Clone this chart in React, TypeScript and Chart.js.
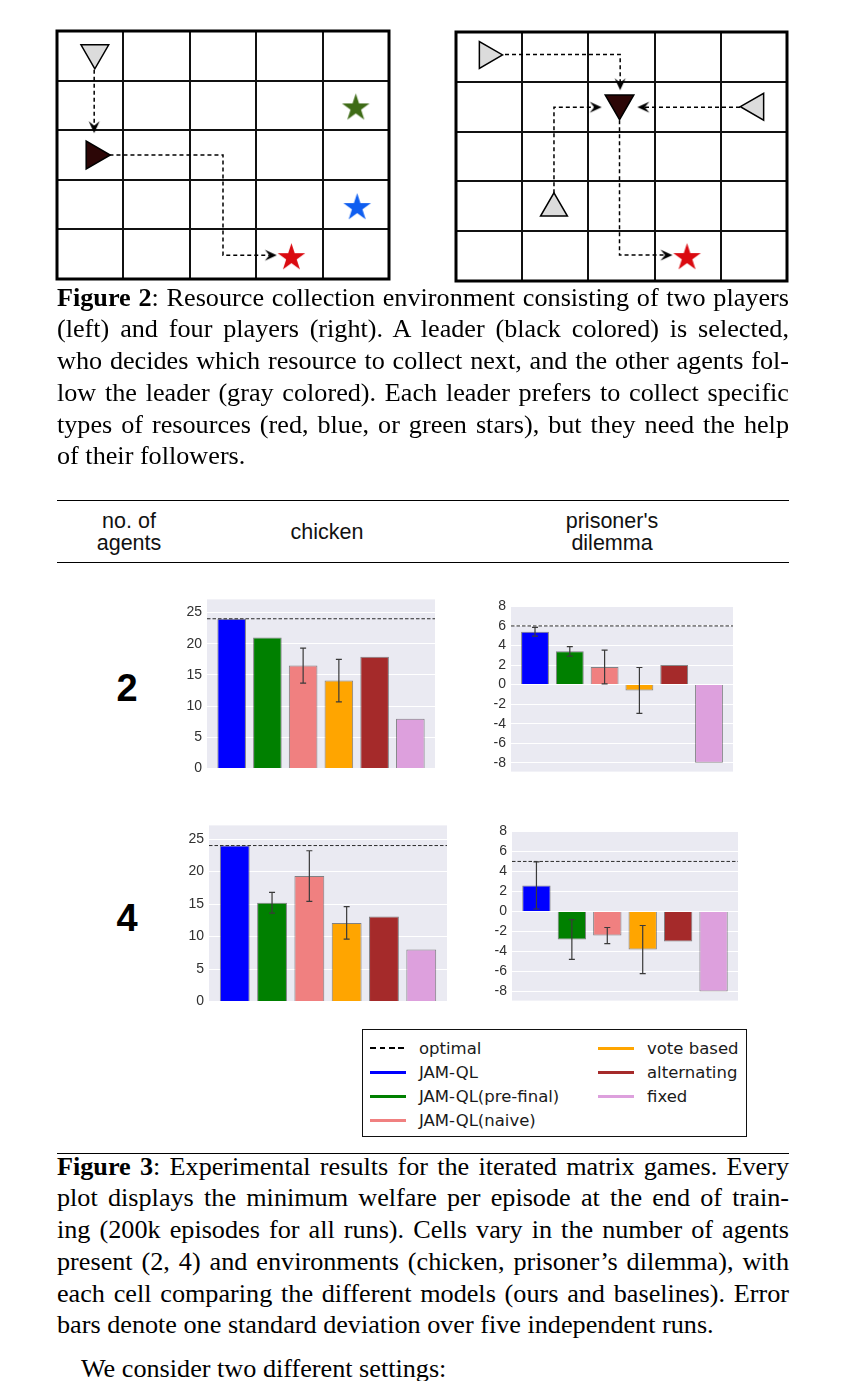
import React, { useEffect, useRef } from 'react';
import { Chart, registerables } from 'chart.js';
Chart.register(...registerables);

// ---------------- Figure 3 data ----------------
const MODELS = ['JAM-QL', 'JAM-QL(pre-final)', 'JAM-QL(naive)', 'vote based', 'alternating', 'fixed'];
const MODEL_COLORS = ['#0000FF', '#008000', '#F08080', '#FFA500', '#A52A2A', '#DDA0DD'];
const MODEL_X = [0, 1, 2, 3, 4, 5];
const CHICKEN_TICKS = [0, 5, 10, 15, 20, 25];
const PD_TICKS = [-8, -6, -4, -2, 0, 2, 4, 6, 8];

const CHICKEN2_MEAN = [24, 21, 16.5, 14.1, 17.9, 8];
const CHICKEN2_STD = [0, 0, 2.8, 3.4, 0, 0];
const CHICKEN2_OPT = 24;

const PD2_MEAN = [5.4, 3.4, 1.8, -0.6, 2.0, -8];
const PD2_STD = [0.45, 0.48, 1.72, 2.35, 0, 0];
const PD2_OPT = 6;

const CHICKEN4_MEAN = [24, 15.2, 19.3, 12.1, 13.1, 8];
const CHICKEN4_STD = [0, 1.6, 3.9, 2.5, 0, 0];
const CHICKEN4_OPT = 24;

const PD4_MEAN = [2.6, -2.8, -2.4, -3.8, -3.0, -8];
const PD4_STD = [2.35, 1.98, 0.8, 2.4, 0, 0];
const PD4_OPT = 5;

const AGENT_COUNTS = ['2', '4'];

// ---------------- Figure 2 data (grid cell units) ----------------
const GRID_LINES = [0, 1, 2, 3, 4, 5];

const L_FOLLOWERS = [{ x: 0.57, y: 0.44, rot: 180 }];
const L_LEADERS = [{ x: 0.56, y: 2.5, rot: 90 }];
const L_STARS = [
  { x: 4.5, y: 1.55, color: '#3E6B16' },
  { x: 4.52, y: 3.56, color: '#0F5EF0' },
  { x: 3.53, y: 4.57, color: '#DA0A10' },
];
const L_PATHS = [
  [{ x: 0.56, y: 0.78 }, { x: 0.56, y: 2.0 }],
  [{ x: 0.79, y: 2.5 }, { x: 2.5, y: 2.5 }, { x: 2.5, y: 4.52 }, { x: 3.2, y: 4.52 }],
];
const L_HEADS = [
  { x: 0.56, y: 2.06, rot: 90 },
  { x: 3.31, y: 4.52, rot: 0 },
];

const R_FOLLOWERS = [
  { x: 0.47, y: 0.46, rot: 90 },
  { x: 4.53, y: 1.5, rot: 270 },
  { x: 1.48, y: 3.54, rot: 0 },
];
const R_LEADERS = [{ x: 2.47, y: 1.43, rot: 180 }];
const R_STARS = [{ x: 3.49, y: 4.53, color: '#DA0A10' }];
const R_PATHS = [
  [{ x: 0.74, y: 0.45 }, { x: 2.48, y: 0.45 }, { x: 2.48, y: 1.1 }],
  [{ x: 1.48, y: 3.24 }, { x: 1.48, y: 1.51 }, { x: 2.15, y: 1.51 }],
  [{ x: 4.29, y: 1.51 }, { x: 2.8, y: 1.51 }],
  [{ x: 2.47, y: 1.77 }, { x: 2.47, y: 4.48 }, { x: 3.2, y: 4.48 }],
];
const R_HEADS = [
  { x: 2.48, y: 1.17, rot: 90 },
  { x: 2.2, y: 1.51, rot: 0 },
  { x: 2.74, y: 1.51, rot: 180 },
  { x: 3.27, y: 4.48, rot: 0 },
];

// ---------------- Text ----------------
const FIG2_LINES = [
  'Resource collection environment consisting of two players',
  '(left) and four players (right). A leader (black colored) is selected,',
  'who decides which resource to collect next, and the other agents fol-',
  'low the leader (gray colored). Each leader prefers to collect specific',
  'types of resources (red, blue, or green stars), but they need the help',
  'of their followers.',
];
const FIG3_LINES = [
  'Experimental results for the iterated matrix games. Every',
  'plot displays the minimum welfare per episode at the end of train-',
  'ing (200k episodes for all runs). Cells vary in the number of agents',
  'present (2, 4) and environments (chicken, prisoner\u2019s dilemma), with',
  'each cell comparing the different models (ours and baselines). Error',
  'bars denote one standard deviation over five independent runs.',
];
const NEXT_PARA = 'We consider two different settings:';

const SERIF = '"Liberation Serif", "Times New Roman", serif';
const SANS = '"Liberation Sans", Arial, sans-serif';

// ---------------- helpers ----------------
const X_MIN = -0.69;
const X_MAX = 5.69;

const panelBg = {
  id: 'panelBg',
  beforeDraw(chart: any) {
    const { ctx, chartArea: a } = chart;
    ctx.save();
    ctx.fillStyle = '#EAEAF2';
    ctx.fillRect(a.left, a.top, a.right - a.left, a.bottom - a.top);
    ctx.restore();
  },
};

const errBars = {
  id: 'errBars',
  afterDatasetsDraw(chart: any, _args: any, opts: any) {
    const meta = chart.getDatasetMeta(0);
    const ys = chart.scales.y;
    const ctx = chart.ctx;
    ctx.save();
    ctx.strokeStyle = '#3a3a3a';
    ctx.lineWidth = 1.2;
    opts.means.forEach((m: number, i: number) => {
      const e = opts.stds[i];
      if (!e) return;
      const x = meta.data[i].x;
      const y1 = ys.getPixelForValue(m - e);
      const y2 = ys.getPixelForValue(m + e);
      ctx.beginPath();
      ctx.moveTo(x, y1);
      ctx.lineTo(x, y2);
      ctx.moveTo(x - 3, y1);
      ctx.lineTo(x + 3, y1);
      ctx.moveTo(x - 3, y2);
      ctx.lineTo(x + 3, y2);
      ctx.stroke();
    });
    ctx.restore();
  },
};

function BarPanel(p: any) {
  const ref = useRef<HTMLCanvasElement>(null);
  useEffect(() => {
    const chart = new Chart(ref.current as HTMLCanvasElement, {
      type: 'bar',
      data: {
        datasets: [
          {
            type: 'bar',
            data: p.means.map((v: number, i: number) => ({ x: MODEL_X[i], y: v })),
            backgroundColor: MODEL_COLORS,
            borderColor: 'rgba(40,40,40,0.55)',
            borderWidth: 1,
            barPercentage: 0.8,
            categoryPercentage: 1,
            order: 2,
          } as any,
          {
            type: 'line',
            label: 'optimal',
            data: [{ x: X_MIN, y: p.opt }, { x: X_MAX, y: p.opt }],
            borderColor: '#2a2a2a',
            borderWidth: 1,
            borderDash: [3.5, 2],
            pointRadius: 0,
            order: 1,
            clip: false,
          } as any,
        ],
      },
      options: {
        responsive: false,
        animation: false,
        events: [],
        layout: { autoPadding: false, padding: { left: 0, right: 4, top: 10, bottom: 10 } },
        plugins: {
          legend: { display: false },
          tooltip: { enabled: false },
          errBars: { means: p.means, stds: p.stds },
        } as any,
        scales: {
          x: { type: 'linear', min: X_MIN, max: X_MAX, display: false, offset: false },
          y: {
            min: p.min,
            max: p.max,
            afterBuildTicks: (s: any) => {
              s.ticks = p.ticks.map((v: number) => ({ value: v }));
            },
            afterFit: (s: any) => {
              s.width = 40;
            },
            ticks: { color: '#303030', font: { family: SANS, size: 14 }, padding: 5 },
            grid: { color: '#FFFFFF', lineWidth: 1, drawTicks: false },
            border: { display: false },
          },
        } as any,
      } as any,
      plugins: [panelBg, errBars],
    });
    return () => chart.destroy();
  }, []);
  return (
    <canvas
      ref={ref}
      width={p.w}
      height={p.h}
      style={{ position: 'absolute', left: p.left, top: p.top, width: p.w, height: p.h }}
    />
  );
}

function makeStar(color: string, R: number) {
  const c = document.createElement('canvas');
  const s = Math.ceil(2 * R + 2);
  c.width = s;
  c.height = s;
  const g = c.getContext('2d') as CanvasRenderingContext2D;
  g.fillStyle = color;
  g.beginPath();
  for (let k = 0; k < 10; k++) {
    const r = k % 2 === 0 ? R : R * 0.382;
    const a = -Math.PI / 2 + (k * Math.PI) / 5;
    const px = s / 2 + r * Math.cos(a);
    const py = s / 2 + r * Math.sin(a);
    if (k === 0) g.moveTo(px, py);
    else g.lineTo(px, py);
  }
  g.closePath();
  g.fill();
  return c;
}

function makeHead(L: number, W: number) {
  const c = document.createElement('canvas');
  const s = Math.ceil(2 * L + 2);
  c.width = s;
  c.height = s;
  const g = c.getContext('2d') as CanvasRenderingContext2D;
  const cx = s / 2;
  const cy = s / 2;
  g.fillStyle = '#000';
  g.beginPath();
  g.moveTo(cx, cy);
  g.lineTo(cx - L, cy - W / 2);
  g.lineTo(cx - 0.62 * L, cy);
  g.lineTo(cx - L, cy + W / 2);
  g.closePath();
  g.fill();
  return c;
}

const frame = {
  id: 'frame',
  beforeDatasetsDraw(chart: any) {
    const { ctx, chartArea: a } = chart;
    ctx.save();
    ctx.strokeStyle = '#000';
    ctx.lineWidth = 3;
    ctx.strokeRect(a.left, a.top, a.right - a.left, a.bottom - a.top);
    ctx.restore();
  },
};

function GridFigure(p: any) {
  const ref = useRef<HTMLCanvasElement>(null);
  useEffect(() => {
    const head = makeHead(12, 11);
    const axisCommon = {
      min: 0,
      max: 5,
      afterBuildTicks: (s: any) => {
        s.ticks = GRID_LINES.map((v) => ({ value: v }));
      },
      ticks: { display: false },
      grid: { color: '#111', lineWidth: 2, drawTicks: false },
      border: { display: false },
    };
    const chart = new Chart(ref.current as HTMLCanvasElement, {
      type: 'scatter',
      data: {
        datasets: [
          {
            data: p.followers.map((o: any) => ({ x: o.x, y: o.y })),
            pointStyle: 'triangle',
            rotation: p.followers.map((o: any) => o.rot),
            pointRadius: p.triR,
            backgroundColor: '#DCDCDC',
            borderColor: '#000',
            borderWidth: 1.5,
            clip: false,
          },
          {
            data: p.leaders.map((o: any) => ({ x: o.x, y: o.y })),
            pointStyle: 'triangle',
            rotation: p.leaders.map((o: any) => o.rot),
            pointRadius: p.leadR,
            backgroundColor: '#2C0606',
            borderColor: '#000',
            borderWidth: 1.5,
            clip: false,
          },
          {
            data: p.stars.map((o: any) => ({ x: o.x, y: o.y })),
            pointStyle: p.stars.map((o: any) => makeStar(o.color, 14.5)),
            pointRadius: 10,
            clip: false,
          },
          {
            data: p.heads.map((o: any) => ({ x: o.x, y: o.y })),
            pointStyle: head,
            rotation: p.heads.map((o: any) => o.rot),
            pointRadius: 10,
            clip: false,
          },
          ...p.paths.map((path: any) => ({
            data: path,
            showLine: true,
            borderColor: '#000',
            borderWidth: 1.5,
            borderDash: [4, 3],
            pointRadius: 0,
            clip: false,
          })),
        ] as any,
      },
      options: {
        responsive: false,
        animation: false,
        events: [],
        layout: { autoPadding: false, padding: 2 },
        plugins: { legend: { display: false }, tooltip: { enabled: false } },
        scales: {
          x: { ...axisCommon, afterFit: (s: any) => { s.height = 0; } },
          y: { ...axisCommon, reverse: true, afterFit: (s: any) => { s.width = 0; } },
        } as any,
      } as any,
      plugins: [frame],
    });
    return () => chart.destroy();
  }, []);
  return (
    <canvas
      ref={ref}
      width={p.w}
      height={p.h}
      style={{ position: 'absolute', left: p.left, top: p.top, width: p.w, height: p.h }}
    />
  );
}

function Caption({ top, label, lines }: any) {
  return (
    <div
      style={{
        position: 'absolute',
        left: 57,
        top,
        width: 732,
        fontFamily: SERIF,
        fontSize: 26.2,
        lineHeight: '31.7px',
        color: '#000',
      }}
    >
      {lines.map((ln: string, i: number) => (
        <div
          key={i}
          style={{
            height: 31.7,
            textAlign: 'justify',
            textAlignLast: i === lines.length - 1 ? 'left' : 'justify',
          } as any}
        >
          {i === 0 ? (
            <>
              <b>{label}</b>: {ln}
            </>
          ) : (
            ln
          )}
        </div>
      ))}
    </div>
  );
}

function Rule({ top }: any) {
  return <div style={{ position: 'absolute', left: 57, top, width: 732, height: 1.6, background: '#000' }} />;
}

function LegendEntry({ label, color, dashed, left, top }: any) {
  return (
    <div style={{ position: 'absolute', left, top, height: 24, display: 'flex', alignItems: 'center', whiteSpace: 'nowrap' }}>
      <div
        style={{
          width: 36,
          height: dashed ? 1.4 : 3,
          background: dashed
            ? 'repeating-linear-gradient(to right, #000 0px, #000 5.5px, transparent 5.5px, transparent 9.5px)'
            : color,
        }}
      />
      <span style={{ marginLeft: 13 }}>{label}</span>
    </div>
  );
}

function Legend() {
  const col1 = [{ label: 'optimal', dashed: true }].concat(
    MODELS.slice(0, 3).map((m, i) => ({ label: m, color: MODEL_COLORS[i] } as any))
  );
  const col2 = MODELS.slice(3).map((m, i) => ({ label: m, color: MODEL_COLORS[i + 3] }));
  return (
    <div
      style={{
        position: 'absolute',
        left: 362,
        top: 1029,
        width: 385,
        height: 108,
        border: '1.4px solid #111',
        boxSizing: 'border-box',
        fontFamily: '"DejaVu Sans", sans-serif',
        fontSize: 16.5,
        color: '#1a1a1a',
      }}
    >
      {col1.map((e: any, i: number) => (
        <LegendEntry key={'a' + i} {...e} left={7} top={6 + 24 * i} />
      ))}
      {col2.map((e: any, i: number) => (
        <LegendEntry key={'b' + i} {...e} left={235} top={6 + 24 * i} />
      ))}
    </div>
  );
}

export default function App() {
  return (
    <div style={{ position: 'absolute', left: 0, top: 0, width: 845, height: 1381, overflow: 'hidden', background: '#fff' }}>
      <GridFigure
        left={55}
        top={29}
        w={336}
        h={252}
        followers={L_FOLLOWERS}
        leaders={L_LEADERS}
        stars={L_STARS}
        paths={L_PATHS}
        heads={L_HEADS}
        triR={16}
        leadR={16}
      />
      <GridFigure
        left={454}
        top={30}
        w={335}
        h={253}
        followers={R_FOLLOWERS}
        leaders={R_LEADERS}
        stars={R_STARS}
        paths={R_PATHS}
        heads={R_HEADS}
        triR={15.5}
        leadR={16.5}
      />

      <Caption top={281.8} label="Figure 2" lines={FIG2_LINES} />

      <Rule top={499.5} />
      <div style={{ position: 'absolute', left: 0, top: 510, width: 845, height: 44, fontFamily: SANS, fontSize: 21.5, lineHeight: '22px', color: '#111' }}>
        <div style={{ position: 'absolute', left: 79, width: 100, textAlign: 'center' }}>no. of<br />agents</div>
        <div style={{ position: 'absolute', left: 277, width: 100, top: 11, textAlign: 'center' }}>chicken</div>
        <div style={{ position: 'absolute', left: 542, width: 140, textAlign: 'center' }}>prisoner's<br />dilemma</div>
      </div>
      <Rule top={561.5} />

      {AGENT_COUNTS.map((a, i) => (
        <div
          key={a}
          style={{
            position: 'absolute',
            left: 97,
            top: i === 0 ? 669.4 : 899.4,
            width: 60,
            textAlign: 'center',
            fontFamily: SANS,
            fontWeight: 'bold',
            fontSize: 38,
            lineHeight: '38px',
            color: '#000',
          }}
        >
          {a}
        </div>
      ))}

      <BarPanel left={167} top={586} w={272} h={196} means={CHICKEN2_MEAN} stds={CHICKEN2_STD} opt={CHICKEN2_OPT} ticks={CHICKEN_TICKS} min={0} max={27.1} />
      <BarPanel left={471} top={593} w={266} h={192} means={PD2_MEAN} stds={PD2_STD} opt={PD2_OPT} ticks={PD_TICKS} min={-8.9} max={8} />
      <BarPanel left={169} top={812} w={282} h={203} means={CHICKEN4_MEAN} stds={CHICKEN4_STD} opt={CHICKEN4_OPT} ticks={CHICKEN_TICKS} min={0} max={27.1} />
      <BarPanel left={472} top={818} w={270} h={196} means={PD4_MEAN} stds={PD4_STD} opt={PD4_OPT} ticks={PD_TICKS} min={-8.9} max={8} />

      <Legend />

      <Rule top={1152.5} />
      <Caption top={1150.8} label="Figure 3" lines={FIG3_LINES} />
      <div style={{ position: 'absolute', left: 81, top: 1353.3, fontFamily: SERIF, fontSize: 26.2, lineHeight: '31.7px', whiteSpace: 'nowrap' }}>
        {NEXT_PARA}
      </div>
    </div>
  );
}
